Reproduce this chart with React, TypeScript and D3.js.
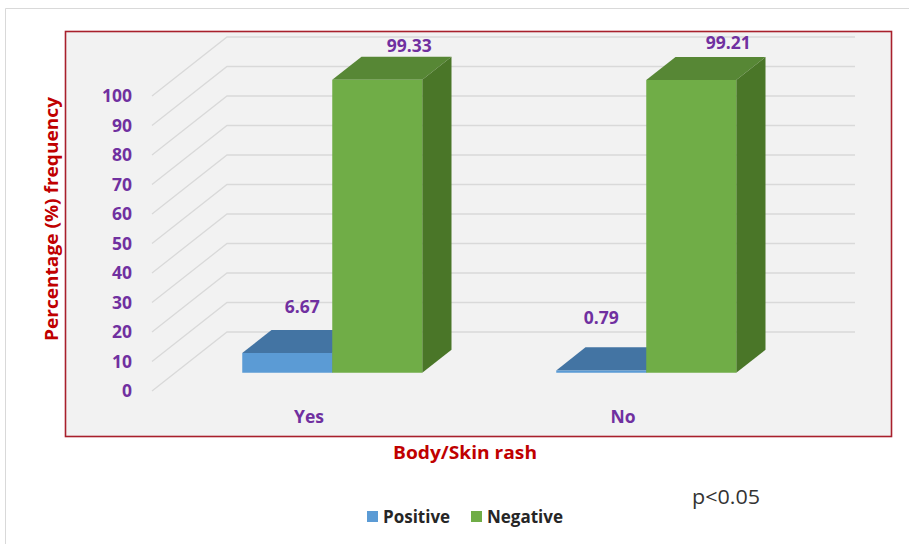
import React from "react";
import * as d3 from "d3";

// ---- data ----
const categories = ["Yes", "No"];
const seriesNames = ["Positive", "Negative"];
const positiveValues = [6.67, 0.79];
const negativeValues = [99.33, 99.21];
const yTicks = [0, 10, 20, 30, 40, 50, 60, 70, 80, 90, 100];
const xAxisTitle = "Body/Skin rash";
const yAxisTitle = "Percentage (%) frequency";
const note = "p<0.05";

// small nudges for value labels (dx, dy) relative to the top-front centre of each bar
const positiveLabelNudge: [number, number][] = [[15, -46], [0, -53]];
const negativeLabelNudge: [number, number][] = [[32, -34], [37, -37]];

// ---- styling ----
const faceColors: Record<string, { front: string; top: string; side: string }> = {
  Positive: { front: "#5B9BD5", top: "#4374A3", side: "#34608A" },
  Negative: { front: "#70AD47", top: "#578735", side: "#4A7628" },
};
const legendColors: Record<string, string> = { Positive: "#5B9BD5", Negative: "#70AD47" };
const PURPLE = "#7030A0";
const RED = "#C00000";
const FONT = "'Open Sans', 'Noto Sans', sans-serif";

const W = 909;
const H = 544;

// oblique depth of the floor (front edge -> back wall)
const DEPTH = { dx: 75, dy: -59 };
const BAR_T0 = 0.31; // bar front plane, as fraction of full depth
const BAR_T1 = 0.7; // bar back plane

const y = d3.scaleLinear().domain([0, 100]).range([391, 96]);
const x0 = d3.scaleBand<string>().domain(categories).range([152, 780]);
const x1 = d3.scaleBand<string>().domain(seriesNames).range([-90, 90]);

const proj = (x: number, yy: number, t: number): [number, number] => [
  x + t * DEPTH.dx,
  yy + t * DEPTH.dy,
];
const poly = (pts: [number, number][]) => pts.map((p) => p.join(",")).join(" ");

type Bar = {
  key: string;
  series: string;
  value: number;
  xl: number;
  xr: number;
  nudge: [number, number];
};

export default function App() {
  const bars: Bar[] = [];
  categories.forEach((c, i) => {
    const cx = (x0(c) as number) + x0.bandwidth() / 2;
    seriesNames.forEach((s) => {
      const value = s === "Positive" ? positiveValues[i] : negativeValues[i];
      const nudge = s === "Positive" ? positiveLabelNudge[i] : negativeLabelNudge[i];
      const xl = cx + (x1(s) as number);
      bars.push({ key: c + s, series: s, value, xl, xr: xl + x1.bandwidth(), nudge });
    });
  });

  const backLeft = x0.range()[0] + DEPTH.dx;
  const backRight = x0.range()[1] + DEPTH.dx;

  return (
    <svg
      width={W}
      height={H}
      style={{ position: "absolute", left: 0, top: 0, background: "#fff" }}
      fontFamily={FONT}
    >
      {/* outer frame */}
      <path d={`M5.5,${H} V8.5 H${W}`} fill="none" stroke="#d9d9d9" strokeWidth={1} />

      {/* plot area */}
      <rect x={65.5} y={31.5} width={826} height={405} fill="#F2F2F2" stroke="#A8202C" strokeWidth={1.6} />

      {/* gridlines: side wall diagonals + back wall horizontals */}
      <g stroke="#D9D9D9" strokeWidth={1.3} fill="none">
        {yTicks.map((v) => {
          const [bx, by] = proj(x0.range()[0], y(v), 1);
          return (
            <path key={v} d={`M${x0.range()[0]},${y(v)} L${bx},${by} H${backRight}`} />
          );
        })}
      </g>

      {/* y tick labels */}
      <g fill={PURPLE} fontWeight={700} fontSize={17.5} textAnchor="end">
        {yTicks.map((v) => (
          <text key={v} x={132} y={y(v)} dy="0.36em">
            {v}
          </text>
        ))}
      </g>

      {/* bars */}
      {bars.map((b) => {
        const col = faceColors[b.series];
        const yt = y(b.value);
        const yb = y(0);
        return (
          <g key={b.key}>
            <polygon
              points={poly([proj(b.xl, yt, BAR_T0), proj(b.xr, yt, BAR_T0), proj(b.xr, yt, BAR_T1), proj(b.xl, yt, BAR_T1)])}
              fill={col.top}
            />
            <polygon
              points={poly([proj(b.xr, yt, BAR_T0), proj(b.xr, yt, BAR_T1), proj(b.xr, yb, BAR_T1), proj(b.xr, yb, BAR_T0)])}
              fill={col.side}
            />
            <polygon
              points={poly([proj(b.xl, yt, BAR_T0), proj(b.xr, yt, BAR_T0), proj(b.xr, yb, BAR_T0), proj(b.xl, yb, BAR_T0)])}
              fill={col.front}
            />
          </g>
        );
      })}

      {/* value labels */}
      <g fill={PURPLE} fontWeight={700} fontSize={17.5} textAnchor="middle">
        {bars.map((b) => {
          const [fx, fy] = proj((b.xl + b.xr) / 2, y(b.value), BAR_T0);
          return (
            <text key={b.key} x={fx + b.nudge[0]} y={fy + b.nudge[1]} dy="0.36em">
              {b.value.toFixed(2)}
            </text>
          );
        })}
      </g>

      {/* category labels */}
      <g fill={PURPLE} fontWeight={700} fontSize={17.5} textAnchor="middle">
        {categories.map((c) => (
          <text key={c} x={(x0(c) as number) + x0.bandwidth() / 2} y={417} dy="0.36em">
            {c}
          </text>
        ))}
      </g>

      {/* axis titles */}
      <text
        x={465}
        y={453}
        dy="0.36em"
        textAnchor="middle"
        fill={RED}
        fontWeight={700}
        fontSize={17}
        textLength={144}
        lengthAdjust="spacingAndGlyphs"
      >
        {xAxisTitle}
      </text>
      <text
        transform="translate(52,219) rotate(-90)"
        dy="0.36em"
        textAnchor="middle"
        fill={RED}
        fontWeight={700}
        fontSize={17}
        textLength={244}
        lengthAdjust="spacingAndGlyphs"
      >
        {yAxisTitle}
      </text>

      {/* legend */}
      <g fontWeight={700} fontSize={17} fill="#262626">
        {seriesNames.map((s, i) => {
          const lx = i === 0 ? 367 : 471;
          return (
            <g key={s}>
              <rect x={lx} y={511} width={11} height={11} fill={legendColors[s]} />
              <text x={lx + 16} y={516.5} dy="0.36em">
                {s}
              </text>
            </g>
          );
        })}
      </g>

      {/* significance note */}
      <text
        x={692}
        y={497}
        dy="0.36em"
        fill="#333"
        fontSize={20}
        textLength={68}
        lengthAdjust="spacingAndGlyphs"
      >
        {note}
      </text>
    </svg>
  );
}
